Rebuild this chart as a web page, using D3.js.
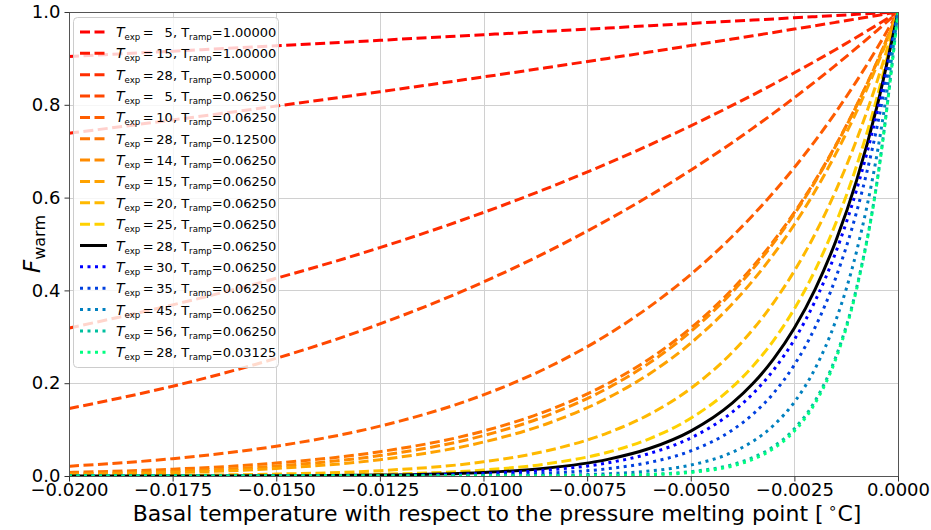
<!DOCTYPE html>
<html>
<head>
<meta charset="utf-8">
<script src="https://cdn.jsdelivr.net/npm/d3@7"></script>
<style>
  body { margin: 0; background: #fff; }
  text { font-family: "DejaVu Sans", sans-serif; fill: #000; }
</style>
</head>
<body>
<svg id="chart" width="931" height="530"></svg>
<script>
// Basal temperature samples (deg C relative to pressure melting point)
const temps = [-0.02, -0.0175, -0.015, -0.0125, -0.01, -0.0085, -0.007, -0.006, -0.005,
               -0.004, -0.0035, -0.003, -0.0025, -0.002, -0.0015, -0.001, -0.0005, 0];

// F_warm for each (T_exp, T_ramp) pair, sampled at temps
const fExp5Ramp1      = [0.9039, 0.9155, 0.9272, 0.9390, 0.9510, 0.9582, 0.9655, 0.9704, 0.9753, 0.9802, 0.9826, 0.9851, 0.9876, 0.9900, 0.9925, 0.9950, 0.9975, 1];
const fExp15Ramp1     = [0.7386, 0.7673, 0.7972, 0.8281, 0.8601, 0.8798, 0.9000, 0.9137, 0.9276, 0.9417, 0.9488, 0.9559, 0.9632, 0.9704, 0.9777, 0.9851, 0.9925, 1];
const fExp28Ramp05    = [0.3189, 0.3688, 0.4262, 0.4922, 0.5680, 0.6187, 0.6738, 0.7132, 0.7547, 0.7986, 0.8214, 0.8449, 0.8691, 0.8938, 0.9193, 0.9455, 0.9724, 1];
const fExp5           = [0.1454, 0.1935, 0.2536, 0.3277, 0.4182, 0.4815, 0.5522, 0.6037, 0.6591, 0.7184, 0.7497, 0.7820, 0.8154, 0.8499, 0.8856, 0.9225, 0.9606, 1];
const fExp10          = [0.0211, 0.0374, 0.0643, 0.1074, 0.1749, 0.2318, 0.3049, 0.3645, 0.4344, 0.5161, 0.5621, 0.6115, 0.6649, 0.7223, 0.7843, 0.8510, 0.9228, 1];
const fExp28Ramp0125  = [0.0076, 0.0147, 0.0279, 0.0523, 0.0968, 0.1392, 0.1992, 0.2523, 0.3189, 0.4023, 0.4515, 0.5066, 0.5680, 0.6366, 0.7132, 0.7986, 0.8938, 1];
const fExp14          = [0.0045, 0.0101, 0.0215, 0.0440, 0.0871, 0.1292, 0.1896, 0.2434, 0.3112, 0.3962, 0.4463, 0.5023, 0.5647, 0.6343, 0.7117, 0.7979, 0.8937, 1];
const fExp15          = [0.0031, 0.0072, 0.0163, 0.0352, 0.0732, 0.1116, 0.1684, 0.2200, 0.2863, 0.3708, 0.4213, 0.4781, 0.5421, 0.6140, 0.6947, 0.7851, 0.8866, 1];
const fExp20          = [0.0004, 0.0014, 0.0041, 0.0115, 0.0306, 0.0537, 0.0930, 0.1328, 0.1887, 0.2664, 0.3158, 0.3739, 0.4420, 0.5218, 0.6152, 0.7243, 0.8516, 1];
const fExp25          = [0.0001, 0.0003, 0.0010, 0.0038, 0.0128, 0.0259, 0.0513, 0.0802, 0.1244, 0.1914, 0.2368, 0.2924, 0.3604, 0.4435, 0.5449, 0.6682, 0.8181, 1];
const fExp28          = [0.0000, 0.0001, 0.0005, 0.0019, 0.0076, 0.0167, 0.0359, 0.0592, 0.0968, 0.1569, 0.1992, 0.2523, 0.3189, 0.4023, 0.5066, 0.6366, 0.7986, 1];
const fExp30          = [0.0000, 0.0001, 0.0003, 0.0012, 0.0054, 0.0125, 0.0283, 0.0484, 0.0820, 0.1375, 0.1775, 0.2286, 0.2939, 0.3770, 0.4825, 0.6164, 0.7859, 1];
const fExp35          = [0.0000, 0.0000, 0.0001, 0.0004, 0.0022, 0.0060, 0.0157, 0.0292, 0.0540, 0.0988, 0.1331, 0.1788, 0.2396, 0.3204, 0.4274, 0.5686, 0.7550, 1];
const fExp45          = [0.0000, 0.0000, 0.0000, 0.0000, 0.0004, 0.0014, 0.0048, 0.0107, 0.0235, 0.0510, 0.0748, 0.1093, 0.1593, 0.2315, 0.3352, 0.4839, 0.6967, 1];
const fExp56          = [0.0000, 0.0000, 0.0000, 0.0000, 0.0001, 0.0003, 0.0013, 0.0035, 0.0094, 0.0246, 0.0397, 0.0636, 0.1017, 0.1619, 0.2566, 0.4052, 0.6378, 1];
const fExp28Ramp03125 = [0.0000, 0.0000, 0.0000, 0.0000, 0.0000, 0.0001, 0.0008, 0.0026, 0.0076, 0.0216, 0.0359, 0.0592, 0.0968, 0.1569, 0.2523, 0.4023, 0.6366, 1];

// Legend parameters for each series
const expValues  = [5, 15, 28, 5, 10, 28, 14, 15, 20, 25, 28, 30, 35, 45, 56, 28];
const rampValues = [1, 1, 0.5, 0.0625, 0.0625, 0.125, 0.0625, 0.0625, 0.0625, 0.0625, 0.0625, 0.0625, 0.0625, 0.0625, 0.0625, 0.03125];

// Axis ticks
const xTicks = [-0.02, -0.0175, -0.015, -0.0125, -0.01, -0.0075, -0.005, -0.0025, 0];
const yTicks = [0, 0.2, 0.4, 0.6, 0.8, 1.0];

// Styling
const colors = ["#ff0000", "#ff1700", "#ff2e00", "#ff4600", "#ff5d00", "#ff7400", "#ff8b00", "#ffa200", "#ffb900", "#ffd100",
                "#000000", "#0000ff", "#0040df", "#0080bf", "#00bf9f", "#00ff80"];
const styles = ["dash","dash","dash","dash","dash","dash","dash","dash","dash","dash",
                "solid","dot","dot","dot","dot","dot"];

const seriesValues = [fExp5Ramp1, fExp15Ramp1, fExp28Ramp05, fExp5, fExp10, fExp28Ramp0125, fExp14, fExp15,
                      fExp20, fExp25, fExp28, fExp30, fExp35, fExp45, fExp56, fExp28Ramp03125];

const series = seriesValues.map((vals, i) => ({
  values: vals.map((f, j) => ({ t: temps[j], f })),
  texp: expValues[i], tramp: rampValues[i], color: colors[i], style: styles[i]
}));

const W = 931, H = 530;
const margin = { left: 69, right: 33, top: 12, bottom: 54 };
const svg = d3.select("#chart");

const x = d3.scaleLinear().domain([-0.02, 0]).range([margin.left, W - margin.right]);
const y = d3.scaleLinear().domain([0, 1]).range([H - margin.bottom, margin.top]);

const dashFor = s => s === "dash" ? "10,4.5" : s === "dot" ? "3,4.5" : null;

// clip region = plot area
svg.append("defs").append("clipPath").attr("id", "plotClip")
  .append("rect").attr("x", x(-0.02)).attr("y", y(1))
  .attr("width", x(0) - x(-0.02)).attr("height", y(0) - y(1));

// grid
const grid = svg.append("g").attr("stroke", "#d0d0d0").attr("stroke-width", 1);
grid.selectAll(".gx").data(xTicks).join("line")
  .attr("x1", d => Math.round(x(d)) + 0.5).attr("x2", d => Math.round(x(d)) + 0.5)
  .attr("y1", y(0)).attr("y2", y(1));
grid.selectAll(".gy").data(yTicks).join("line")
  .attr("y1", d => Math.round(y(d)) + 0.5).attr("y2", d => Math.round(y(d)) + 0.5)
  .attr("x1", x(-0.02)).attr("x2", x(0));

// curves
const line = d3.line().x(d => x(d.t)).y(d => y(d.f)).curve(d3.curveMonotoneX);
const curves = svg.append("g").attr("clip-path", "url(#plotClip)");
curves.selectAll("path").data(series).join("path")
  .attr("d", d => line(d.values))
  .attr("fill", "none")
  .attr("stroke", d => d.color)
  .attr("stroke-width", 3)
  .attr("stroke-dasharray", d => dashFor(d.style));

// frame
svg.append("rect")
  .attr("x", x(-0.02) + 0.5).attr("y", y(1) + 0.5)
  .attr("width", x(0) - x(-0.02)).attr("height", y(0) - y(1))
  .attr("fill", "none").attr("stroke", "#555").attr("stroke-width", 1);

// axes
const fmtX = d3.format(".4f");
const fmtY = d3.format(".1f");
const xAxis = svg.append("g").attr("transform", `translate(0,${y(0) + 0.5})`)
  .call(d3.axisBottom(x).tickValues(xTicks).tickFormat(fmtX).tickSize(5).tickPadding(2));
const yAxis = svg.append("g").attr("transform", `translate(${x(-0.02) + 0.5},0)`)
  .call(d3.axisLeft(y).tickValues(yTicks).tickFormat(fmtY).tickSize(5).tickPadding(4));
[xAxis, yAxis].forEach(g => {
  g.select(".domain").remove();
  g.selectAll(".tick line").attr("stroke", "#333");
  g.selectAll(".tick text").attr("font-size", 18).attr("font-family", "DejaVu Sans");
});

// axis titles
const xt = svg.append("text").attr("x", 497).attr("y", 521)
  .attr("text-anchor", "middle").attr("font-size", 22);
xt.append("tspan").text("Basal temperature with respect to the pressure melting point [\u2009");
xt.append("tspan").attr("font-size", 15).attr("dy", -8).text("\u2218");
xt.append("tspan").attr("dy", 8).text("C]");

const yt = svg.append("text").attr("transform", `translate(40,${(y(0) + y(1)) / 2}) rotate(-90)`)
  .attr("text-anchor", "middle").attr("font-size", 23);
yt.append("tspan").attr("font-style", "italic").text("F");
yt.append("tspan").attr("font-size", 16).attr("dy", 5).text("warm");

// legend
const leg = svg.append("g");
const legX = 73, legY = 17, rowH = 21.35, fs = 13, sub = 8.6;
leg.append("rect").attr("x", legX + 0.5).attr("y", legY + 0.5).attr("width", 205).attr("height", 350)
  .attr("rx", 4).attr("fill", "#fff").attr("fill-opacity", 0.8).attr("stroke", "#cccccc");
series.forEach((s, i) => {
  const cy = legY + 15 + i * rowH;
  leg.append("line").attr("x1", 80).attr("x2", 107).attr("y1", cy).attr("y2", cy)
    .attr("stroke", s.color).attr("stroke-width", 3).attr("stroke-dasharray", dashFor(s.style));
  const t = leg.append("text").attr("x", 116).attr("y", cy + 5).attr("font-size", fs);
  t.append("tspan").attr("font-style", "italic").attr("font-size", 14).text("T");
  t.append("tspan").attr("font-size", sub).attr("dy", 3).text("exp");
  const ex = s.texp < 10 ? "\u2007" + s.texp : String(s.texp);
  t.append("tspan").attr("dy", -3).text("\u2009=\u2009" + ex + ", T");
  t.append("tspan").attr("font-size", sub).attr("dy", 3).text("ramp");
  t.append("tspan").attr("dy", -3).text("=" + s.tramp.toFixed(5));
});
</script>
</body>
</html>
